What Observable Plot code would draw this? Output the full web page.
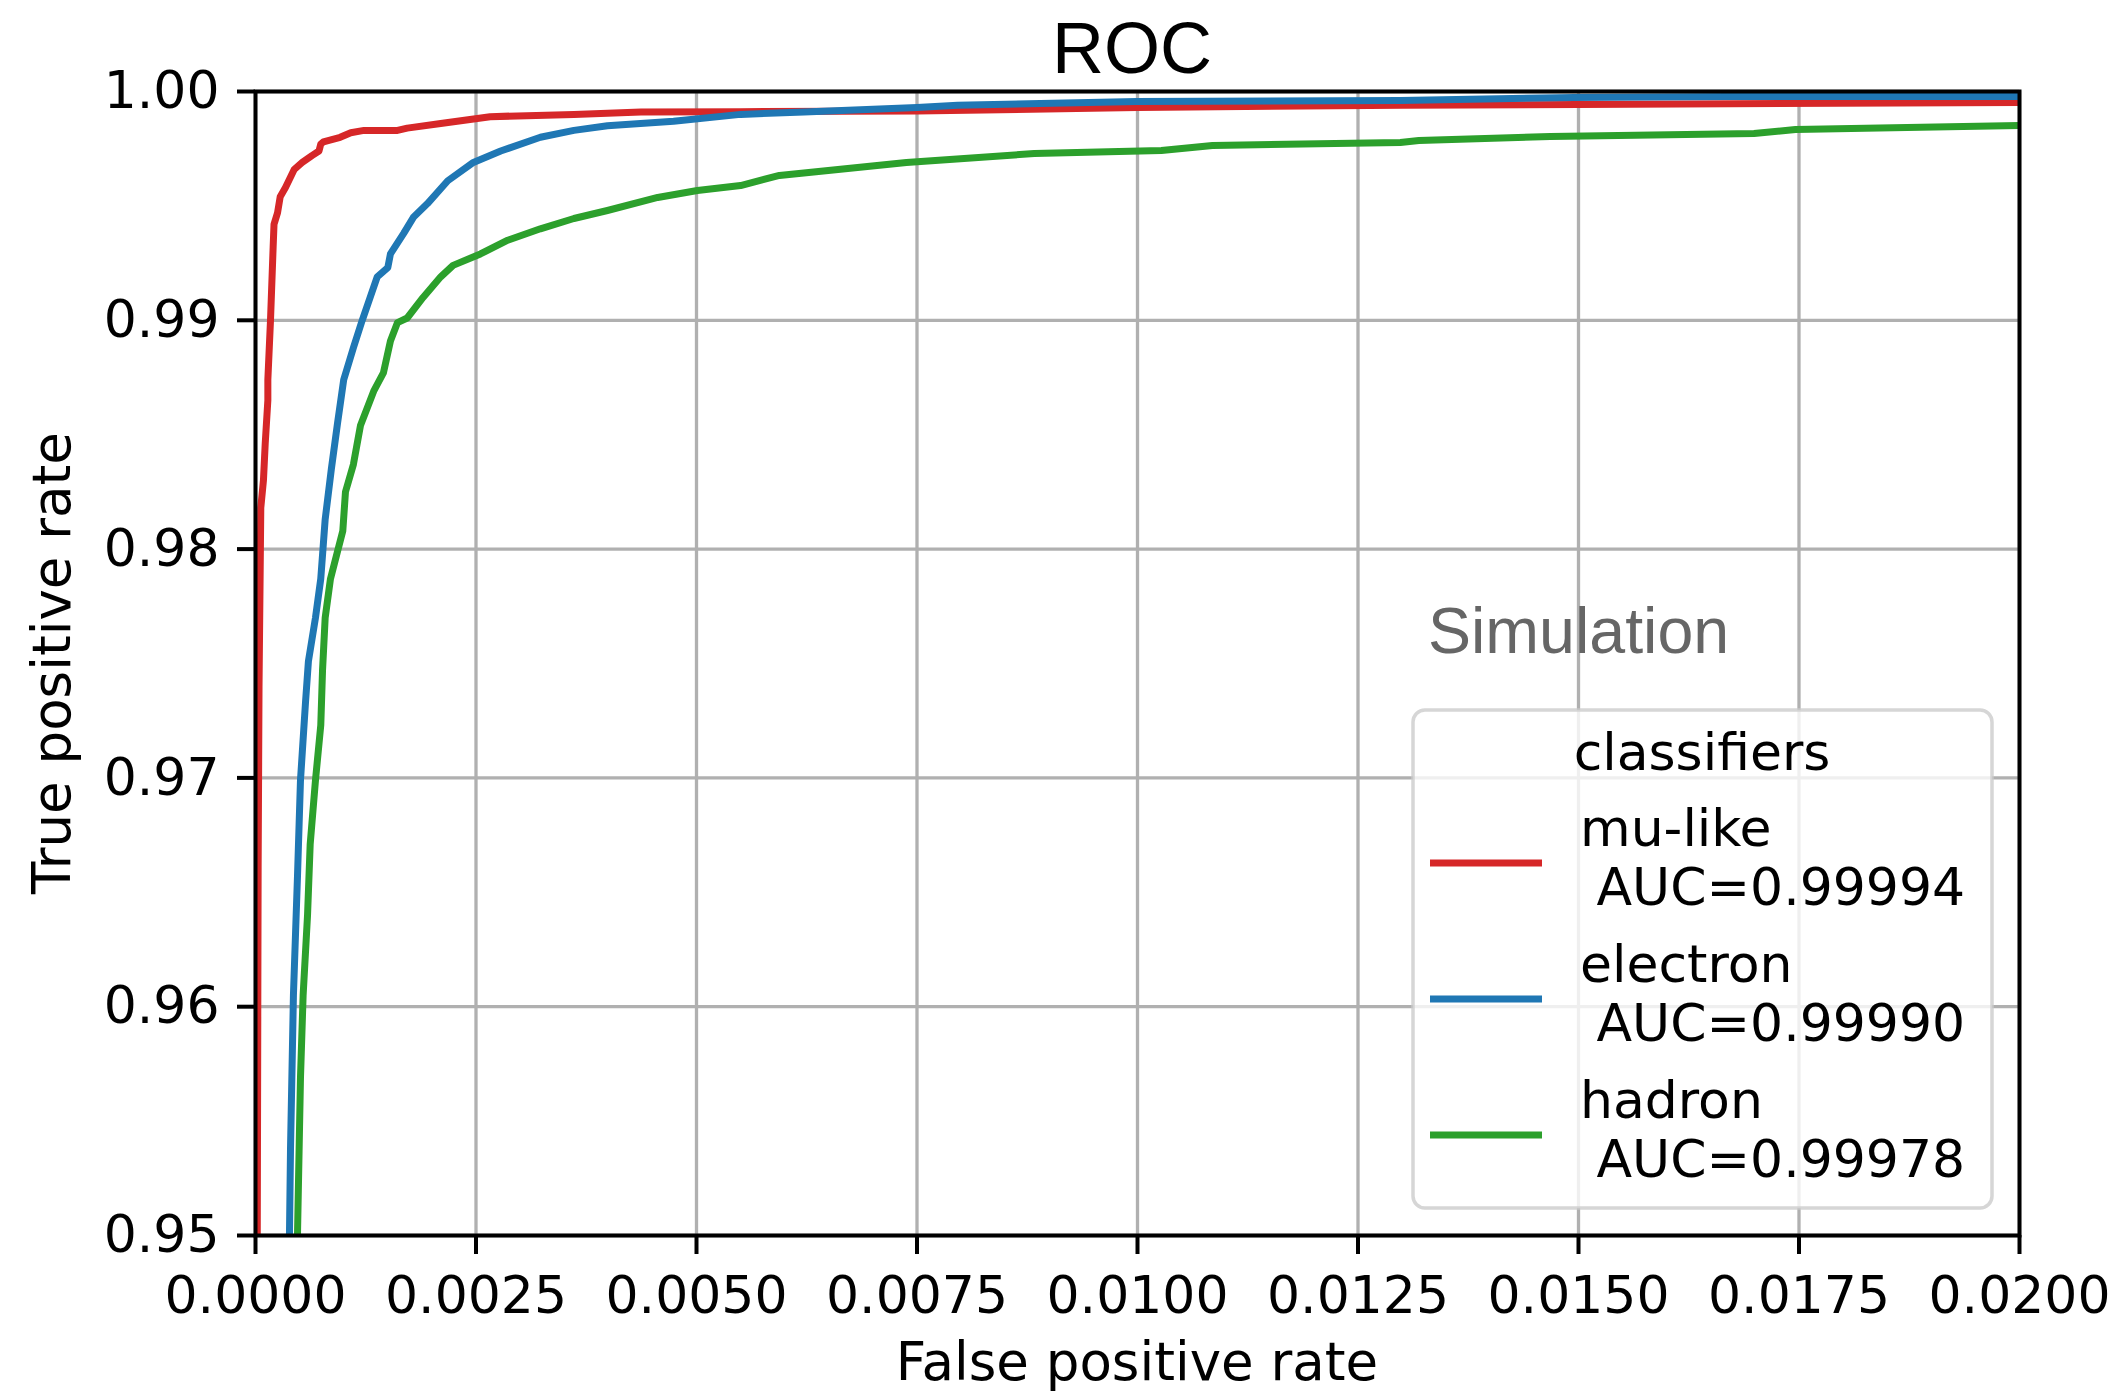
<!DOCTYPE html>
<html><head><meta charset="utf-8">
<script src="https://cdn.jsdelivr.net/npm/d3@7"></script>
<script src="https://cdn.jsdelivr.net/npm/@observablehq/plot@0.6"></script>
<style>html,body{margin:0;padding:0;background:#fff;} svg{display:block}</style>
</head><body><div id="chart"></div>
<script>
const classifiers = ["mu-like", "electron", "hadron"];
const aucLabels = ["AUC=0.99994", "AUC=0.99990", "AUC=0.99978"];
const colors = ["#d62728", "#1f77b4", "#2ca02c"];
const xTicks = [0, 0.0025, 0.005, 0.0075, 0.01, 0.0125, 0.015, 0.0175, 0.02];
const yTicks = [0.95, 0.96, 0.97, 0.98, 0.99, 1.00];

const muFpr = [0.00002, 0.00003, 0.00004, 0.00006, 0.00009, 0.00011, 0.00014, 0.00014, 0.00017, 0.00020, 0.00021, 0.00025, 0.00028, 0.00034, 0.00044, 0.00053, 0.00064, 0.00072, 0.00074, 0.00077, 0.00096, 0.00108, 0.00123, 0.00161, 0.00172, 0.00210, 0.00266, 0.00361, 0.00437, 0.00550, 0.00750, 0.01000, 0.01300, 0.01500, 0.02000];
const muTpr = [0.9500, 0.9661, 0.9740, 0.9818, 0.9830, 0.9846, 0.9865, 0.9874, 0.9900, 0.9932, 0.9942, 0.9947, 0.9954, 0.9958, 0.9966, 0.9969, 0.9972, 0.9974, 0.9977, 0.9978, 0.9980, 0.9982, 0.9983, 0.9983, 0.9984, 0.9986, 0.9989, 0.9990, 0.9991, 0.99912, 0.99915, 0.9993, 0.9994, 0.99943, 0.99952];

const elFpr = [0.000385, 0.000397, 0.00043, 0.000476, 0.00051, 0.000567, 0.0006, 0.00068, 0.00074, 0.00079, 0.00086, 0.00093, 0.0010, 0.00111, 0.00121, 0.0013, 0.00138, 0.0015, 0.00153, 0.00168, 0.00179, 0.00195, 0.00218, 0.00247, 0.00278, 0.00323, 0.00361, 0.00399, 0.00474, 0.0055, 0.00622, 0.0075, 0.00796, 0.00999, 0.01298, 0.01495, 0.01667, 0.0200];
const elTpr = [0.9500, 0.9538, 0.9605, 0.9657, 0.9699, 0.9733, 0.9751, 0.9770, 0.9787, 0.9813, 0.9835, 0.9855, 0.9874, 0.9888, 0.9900, 0.9910, 0.9919, 0.9923, 0.9929, 0.9938, 0.9945, 0.9951, 0.9961, 0.9969, 0.9974, 0.9980, 0.9983, 0.9985, 0.9987, 0.9990, 0.9991, 0.9993, 0.9994, 0.99956, 0.99961, 0.99974, 0.99978, 0.99978];

const hdFpr = [0.000476, 0.00051, 0.00054, 0.00059, 0.00062, 0.00068, 0.00074, 0.00076, 0.00079, 0.00085, 0.00093, 0.00099, 0.00102, 0.00111, 0.00119, 0.00134, 0.00145, 0.00153, 0.00161, 0.00172, 0.0019, 0.0021, 0.00224, 0.00255, 0.00286, 0.00323, 0.00361, 0.00399, 0.00456, 0.00501, 0.0055, 0.00594, 0.00738, 0.00883, 0.01027, 0.01085, 0.01298, 0.01319, 0.01468, 0.01699, 0.01746, 0.0200];
const hdTpr = [0.9500, 0.9569, 0.9605, 0.9640, 0.9671, 0.9699, 0.9723, 0.9747, 0.9770, 0.9787, 0.9799, 0.9808, 0.9825, 0.9837, 0.9854, 0.9869, 0.9877, 0.9891, 0.9899, 0.9901, 0.9910, 0.9919, 0.9924, 0.9929, 0.9935, 0.9940, 0.99445, 0.9948, 0.99537, 0.99567, 0.99589, 0.99633, 0.99690, 0.99729, 0.99742, 0.99764, 0.99777, 0.99786, 0.99803, 0.99816, 0.99834, 0.99851];

const series = [[muFpr, muTpr], [elFpr, elTpr], [hdFpr, hdTpr]];
const rows = [];
series.forEach(([xs, ys], i) => xs.forEach((x, j) => rows.push({cls: classifiers[i], fpr: x, tpr: ys[j]})));

const gridStyle = {stroke: "#b0b0b0", strokeOpacity: 1, strokeWidth: 3.3};
const chart = Plot.plot({
  width: 2121, height: 1395,
  marginLeft: 255, marginRight: 102, marginTop: 91, marginBottom: 160,
  style: {fontFamily: "'DejaVu Sans', sans-serif", fontSize: "52px", background: "white", color: "black"},
  x: {domain: [0, 0.02]},
  y: {domain: [0.95, 1.0]},
  color: {domain: classifiers, range: colors},
  marks: [
    Plot.gridX(xTicks, gridStyle),
    Plot.gridY(yTicks, gridStyle),
    Plot.line(rows, {x: "fpr", y: "tpr", z: "cls", stroke: "cls", strokeWidth: 7, clip: true, strokeLinejoin: "round"}),
    Plot.frame({stroke: "black", strokeWidth: 4}),
    Plot.axisX(xTicks, {tickSize: 19, tickPadding: 22, strokeWidth: 4, tickFormat: d3.format(".4f"), label: null, fontSize: 52}),
    Plot.axisY(yTicks, {tickSize: 18, tickPadding: 18, strokeWidth: 4, tickFormat: d3.format(".2f"), label: null, fontSize: 52})
  ]
});
document.getElementById("chart").appendChild(chart);

const svg = d3.select(chart);
const ann = svg.append("g");
ann.append("text").text("ROC").attr("x", 1132).attr("y", 73)
  .attr("text-anchor", "middle").attr("font-family", "'Liberation Sans', Arial, sans-serif").attr("font-size", 72).attr("fill", "black");
ann.append("text").text("False positive rate").attr("x", 1137).attr("y", 1380)
  .attr("text-anchor", "middle").attr("font-size", 53).attr("fill", "black");
ann.append("text").text("True positive rate").attr("transform", "translate(70,663) rotate(-90)")
  .attr("text-anchor", "middle").attr("font-size", 53).attr("fill", "black");
ann.append("text").text("Simulation").attr("x", 1428).attr("y", 653).attr("text-anchor", "start")
  .attr("font-family", "'Liberation Sans', Arial, sans-serif").attr("font-size", 64.5).attr("fill", "#666666");

const lg = svg.append("g");
lg.append("rect").attr("x", 1413).attr("y", 710).attr("width", 579).attr("height", 498).attr("rx", 12)
  .attr("fill", "white").attr("fill-opacity", 0.8).attr("stroke", "#cccccc").attr("stroke-opacity", 0.8).attr("stroke-width", 3.5);
lg.append("text").text("classifiers").attr("x", 1702).attr("y", 770).attr("text-anchor", "middle").attr("font-size", 52).attr("fill", "black");
const handleY = [863, 999, 1135];
const nameY = [846, 982, 1118];
classifiers.forEach((c, i) => {
  lg.append("line").attr("x1", 1430).attr("x2", 1542).attr("y1", handleY[i]).attr("y2", handleY[i])
    .attr("stroke", colors[i]).attr("stroke-width", 7);
  lg.append("text").text(c).attr("x", 1580).attr("y", nameY[i]).attr("text-anchor", "start").attr("font-size", 52).attr("fill", "black").style("white-space", "pre");
  lg.append("text").text(" " + aucLabels[i]).attr("x", 1580).attr("y", nameY[i] + 59).attr("text-anchor", "start").attr("font-size", 52).attr("fill", "black").style("white-space", "pre");
});
</script>
</body></html>
